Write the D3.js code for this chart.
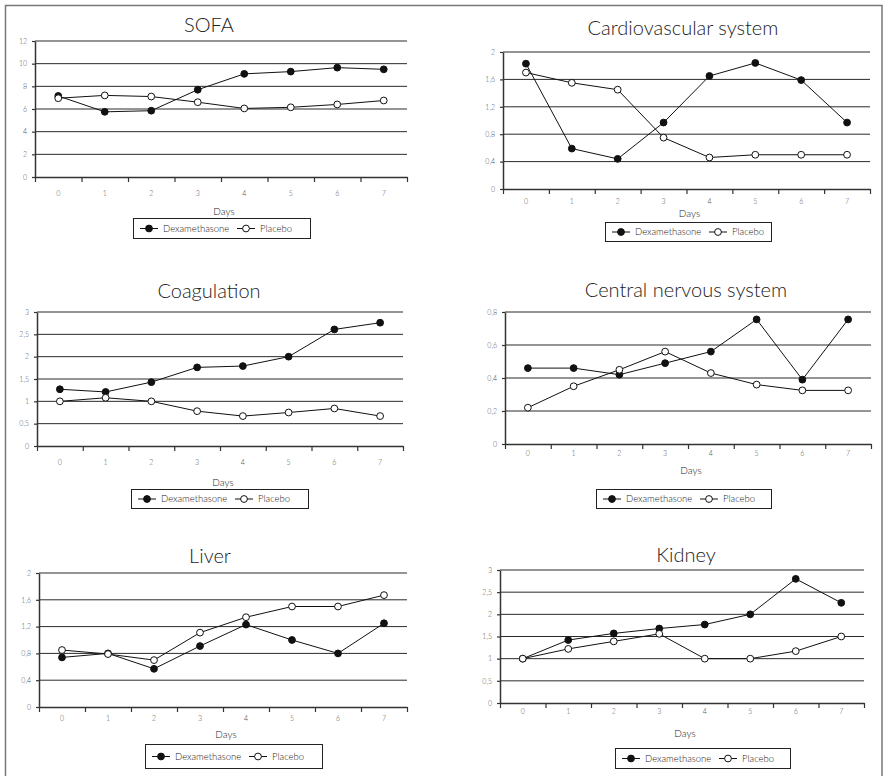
<!DOCTYPE html>
<html>
<head>
<meta charset="utf-8">
<script src="https://cdn.jsdelivr.net/npm/d3@7"></script>
<style>
  body { margin: 0; background: #fff; }
  svg { display: block; font-family: Lato, "Noto Sans", sans-serif; font-weight: 300; }
  .grid { stroke: #2a2a2a; stroke-width: 1; }
  .axis path { stroke: #333; stroke-width: 1.5; }
  .axis line { stroke: #333; stroke-width: 1.2; }
  .axis text { fill: #555; font-size: 7px; font-family: Lato, "Noto Sans", sans-serif; font-weight: 300; }
  .title { fill: #222; font-size: 20px; text-anchor: middle; font-weight: 300; }
  .days { fill: #222; font-size: 10px; text-anchor: middle; font-weight: 300; }
  .leg text { fill: #222; font-size: 9.5px; font-weight: 300; }
</style>
</head>
<body>
<div id="chart"></div>
<script>
// values
var days = [0, 1, 2, 3, 4, 5, 6, 7];
var seriesNames = ["Dexamethasone", "Placebo"];

var sofaDexa     = [7.15, 5.75, 5.85, 7.7, 9.1, 9.3, 9.65, 9.5];
var sofaPlacebo  = [6.95, 7.2, 7.1, 6.6, 6.05, 6.15, 6.4, 6.75];
var sofaTicks    = [0, 2, 4, 6, 8, 10, 12];

var cardioDexa    = [1.83, 0.59, 0.44, 0.97, 1.65, 1.84, 1.59, 0.97];
var cardioPlacebo = [1.7, 1.55, 1.45, 0.75, 0.46, 0.5, 0.5, 0.5];
var cardioTicks   = [0, 0.4, 0.8, 1.2, 1.6, 2];

var coagDexa    = [1.27, 1.21, 1.43, 1.76, 1.79, 2.0, 2.61, 2.76];
var coagPlacebo = [1.0, 1.08, 1.0, 0.78, 0.67, 0.75, 0.84, 0.67];
var coagTicks   = [0, 0.5, 1, 1.5, 2, 2.5, 3];

var cnsDexa    = [0.46, 0.46, 0.42, 0.49, 0.56, 0.755, 0.39, 0.755];
var cnsPlacebo = [0.22, 0.35, 0.45, 0.56, 0.43, 0.36, 0.325, 0.325];
var cnsTicks   = [0, 0.2, 0.4, 0.6, 0.8];

var liverDexa    = [0.74, 0.8, 0.57, 0.91, 1.23, 1.0, 0.8, 1.25];
var liverPlacebo = [0.85, 0.79, 0.7, 1.11, 1.34, 1.5, 1.5, 1.67];
var liverTicks   = [0, 0.4, 0.8, 1.2, 1.6, 2];

var kidneyDexa    = [1.0, 1.42, 1.57, 1.68, 1.77, 2.0, 2.8, 2.26];
var kidneyPlacebo = [1.0, 1.22, 1.39, 1.56, 1.0, 1.0, 1.17, 1.5];
var kidneyTicks   = [0, 0.5, 1, 1.5, 2, 2.5, 3];

// panel layout
var panels = [
  {title: "SOFA", dexa: sofaDexa, placebo: sofaPlacebo, ticks: sofaTicks,
   left: 35, top: 41, right: 407, bottom: 177, titleX: 209, titleY: 32,
   labelY: 194, daysY: 215, legX: 133, legY: 218, legW: 177, legH: 20},
  {title: "Cardiovascular system", dexa: cardioDexa, placebo: cardioPlacebo, ticks: cardioTicks,
   left: 503, top: 52, right: 870, bottom: 189, titleX: 683, titleY: 35,
   labelY: 202, daysY: 217, legX: 605, legY: 222, legW: 166, legH: 19},
  {title: "Coagulation", dexa: coagDexa, placebo: coagPlacebo, ticks: coagTicks,
   left: 37, top: 312, right: 403, bottom: 446, titleX: 209, titleY: 298,
   labelY: 463, daysY: 486, legX: 131, legY: 489, legW: 177, legH: 19},
  {title: "Central nervous system", dexa: cnsDexa, placebo: cnsPlacebo, ticks: cnsTicks,
   left: 505, top: 312, right: 871, bottom: 444, titleX: 686, titleY: 297,
   labelY: 454, daysY: 474, legX: 596, legY: 489, legW: 175, legH: 19},
  {title: "Liver", dexa: liverDexa, placebo: liverPlacebo, ticks: liverTicks,
   left: 39, top: 573, right: 407, bottom: 707, titleX: 210, titleY: 563,
   labelY: 719, daysY: 738, legX: 145, legY: 744, legW: 177, legH: 24},
  {title: "Kidney", dexa: kidneyDexa, placebo: kidneyPlacebo, ticks: kidneyTicks,
   left: 500, top: 570, right: 864, bottom: 703, titleX: 686, titleY: 562,
   labelY: 712, daysY: 737, legX: 615, legY: 748, legW: 175, legH: 20}
];

var comma = d3.formatLocale({decimal: ",", thousands: ".", grouping: [3], currency: ["", ""]}).format(".1~f");

var svg = d3.select("#chart").append("svg")
    .attr("width", 886)
    .attr("height", 776);

// outer frame
svg.append("rect")
    .attr("x", 5.5).attr("y", 5.5)
    .attr("width", 876.5).attr("height", 820)
    .attr("fill", "none")
    .attr("stroke", "#777")
    .attr("stroke-width", 1.5);

function drawPanel(p) {
  var g = svg.append("g");

  var x = d3.scaleBand().domain(days).range([p.left, p.right]);
  var xEdge = d3.scaleLinear().domain([0, days.length]).range([p.left, p.right]);
  var y = d3.scaleLinear().domain([0, d3.max(p.ticks)]).range([p.bottom, p.top]);

  // TITLE
  g.append("text").attr("class", "title")
      .attr("x", p.titleX).attr("y", p.titleY)
      .text(p.title);

  // GRID LINES
  g.selectAll(".grid")
      .data(p.ticks.slice(1))
      .enter().append("line")
      .attr("class", "grid")
      .attr("x1", p.left).attr("x2", p.right)
      .attr("y1", function(d) { return y(d); })
      .attr("y2", function(d) { return y(d); });

  // Y AXIS
  g.append("g").attr("class", "axis")
      .attr("transform", "translate(" + p.left + ",0)")
      .call(d3.axisLeft(y).tickValues(p.ticks).tickSize(3).tickSizeOuter(0).tickPadding(5).tickFormat(comma));

  // X AXIS: ticks sit between the days
  g.append("g").attr("class", "axis")
      .attr("transform", "translate(0," + p.bottom + ")")
      .call(d3.axisBottom(xEdge).tickValues(d3.range(days.length + 1)).tickSize(5).tickSizeOuter(0).tickFormat(""));

  var lab = g.append("g").attr("class", "axis")
      .attr("transform", "translate(0," + p.bottom + ")")
      .call(d3.axisBottom(x).tickSize(0).tickPadding(p.labelY - p.bottom - 2.5));
  lab.select(".domain").remove();

  g.append("text").attr("class", "days")
      .attr("x", (p.left + p.right) / 2 + 3).attr("y", p.daysY)
      .text("Days");

  // LINES AND DOTS
  var line = d3.line()
      .x(function(d, i) { return x(days[i]) + x.bandwidth() / 2; })
      .y(function(d) { return y(d); });

  [p.dexa, p.placebo].forEach(function(vals, k) {
    g.append("path")
        .attr("d", line(vals))
        .attr("fill", "none")
        .attr("stroke", "#111")
        .attr("stroke-width", 1);

    g.selectAll(".dot" + k)
        .data(vals)
        .enter().append("circle")
        .attr("class", "dot" + k)
        .attr("cx", function(d, i) { return x(days[i]) + x.bandwidth() / 2; })
        .attr("cy", function(d) { return y(d); })
        .attr("r", 3.4)
        .attr("fill", k === 0 ? "#111" : "#fff")
        .attr("stroke", "#111")
        .attr("stroke-width", 1);
  });

  // LEGEND
  var leg = g.append("g").attr("class", "leg")
      .attr("transform", "translate(" + p.legX + "," + p.legY + ")");
  leg.append("rect")
      .attr("x", 0.5).attr("y", 0.5)
      .attr("width", p.legW).attr("height", p.legH)
      .attr("fill", "#fff")
      .attr("stroke", "#222")
      .attr("stroke-width", 1);

  var cy = p.legH / 2 + 0.5;
  var offs = [7, 104];
  seriesNames.forEach(function(name, k) {
    var ox = offs[k];
    leg.append("line")
        .attr("x1", ox).attr("x2", ox + 18)
        .attr("y1", cy).attr("y2", cy)
        .attr("stroke", "#111").attr("stroke-width", 1);
    leg.append("circle")
        .attr("cx", ox + 9).attr("cy", cy).attr("r", 3.4)
        .attr("fill", k === 0 ? "#111" : "#fff")
        .attr("stroke", "#111").attr("stroke-width", 1);
    leg.append("text")
        .attr("x", ox + 23).attr("y", cy + 3.3)
        .text(name);
  });
}

panels.forEach(drawPanel);
</script>
</body>
</html>
